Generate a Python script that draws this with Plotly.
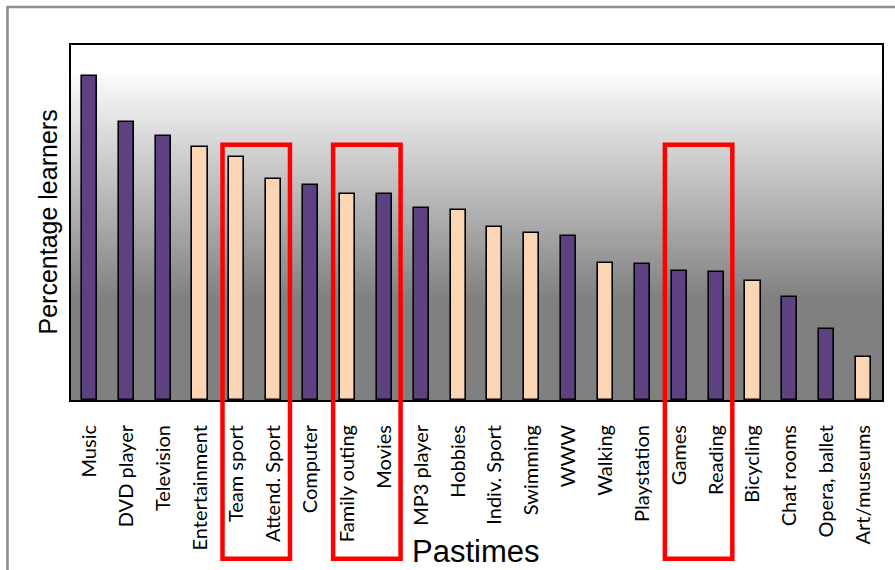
import plotly.graph_objects as go

# Pastimes and share of learners (%)
pastimes = ["Music", "DVD player", "Television", "Entertainment", "Team sport",
            "Attend. Sport", "Computer", "Family outing", "Movies", "MP3 player",
            "Hobbies", "Indiv. Sport", "Swimming", "WWW", "Walking", "Playstation",
            "Games", "Reading", "Bicycling", "Chat rooms", "Opera, ballet",
            "Art/museums"]
percent = [91.3, 78.3, 74.4, 71.3, 68.5, 62.3, 60.6, 58.0, 58.0, 54.0, 53.5,
           48.7, 47.0, 46.2, 38.6, 38.3, 36.3, 36.0, 33.5, 29.0, 20.0, 12.1]
# group of each pastime: "m" = media/home, "a" = activity/outing
group = ["m", "m", "m", "a", "a", "a", "m", "a", "m", "m", "a", "a", "a", "m",
         "a", "m", "m", "m", "a", "m", "m", "a"]
# pairs of pastimes highlighted with a frame
highlight_pairs = [("Team sport", "Attend. Sport"), ("Family outing", "Movies"),
                   ("Games", "Reading")]

PURPLE = "#5d4181"
PEACH = "#fcd5b4"
colors = [PURPLE if g == "m" else PEACH for g in group]

fig = go.Figure(go.Bar(
    x=pastimes, y=percent, width=0.41,
    marker=dict(color=colors, line=dict(color="black", width=1.6)),
))

W, H = 895, 570
ML, MR, MT, MB = 71, 13, 45, 170
plot_h = H - MT - MB

def py(pix):
    """pixel row -> paper y"""
    return (H - MB - pix) / plot_h

shapes = []
# vertical white-to-grey gradient behind the bars
g_top, g_bot = 68, 300
step = 2
for r in range(MT, g_bot, step):
    t = min(max((r + step / 2 - g_top) / (g_bot - g_top), 0), 1)
    v = int(round(255 - t * (255 - 128)))
    shapes.append(dict(type="rect", xref="paper", yref="paper", layer="below",
                       x0=0, x1=1, y0=py(r + step), y1=py(r),
                       fillcolor=f"rgb({v},{v},{v})", line=dict(width=0)))

# red frames around highlighted pairs
idx = {p: i for i, p in enumerate(pastimes)}
for a, b in highlight_pairs:
    shapes.append(dict(type="rect", xref="x", yref="paper", layer="above",
                       x0=idx[a] - 0.39, x1=idx[b] + 0.44,
                       y0=py(558.7), y1=py(144.7),
                       line=dict(color="#ff0000", width=4.5),
                       fillcolor="rgba(0,0,0,0)"))

# outer grey border of the chart
shapes.append(dict(type="rect", xref="paper", yref="paper", layer="above",
                   x0=(7.5 - ML) / (W - ML - MR), x1=(W + 20 - ML) / (W - ML - MR),
                   y0=py(H + 20), y1=py(7),
                   line=dict(color="#8c8c8c", width=2.5), fillcolor="rgba(0,0,0,0)"))

fig.update_layout(
    width=W, height=H,
    margin=dict(l=ML, r=MR, t=MT, b=MB),
    paper_bgcolor="white",
    plot_bgcolor="#808080",
    showlegend=False,
    bargap=0,
    shapes=shapes,
    xaxis=dict(
        type="category", tickangle=-90, ticks="", ticklabelstandoff=15,
        tickfont=dict(family="Lato", size=20, color="black"),
        showline=True, linecolor="black", linewidth=2, mirror=True,
        showgrid=False, zeroline=False, range=[-0.5, len(pastimes) - 0.5],
    ),
    yaxis=dict(
        range=[0, 100], showticklabels=False, ticks="", showgrid=False,
        zeroline=False, showline=True, linecolor="black", linewidth=2,
        mirror=True,
    ),
    annotations=[
        dict(text="Percentage learners", xref="paper", yref="paper",
             x=(47 - ML) / (W - ML - MR), y=0.5, textangle=-90,
             showarrow=False, xanchor="center", yanchor="middle",
             font=dict(family="Liberation Sans", size=25, color="black")),
        dict(text="Pastimes", xref="paper", yref="paper",
             x=(475 - ML) / (W - ML - MR), y=py(551), showarrow=False,
             xanchor="center", yanchor="middle",
             font=dict(family="Liberation Sans", size=31, color="black")),
    ],
)

fig.write_html("out.html")
